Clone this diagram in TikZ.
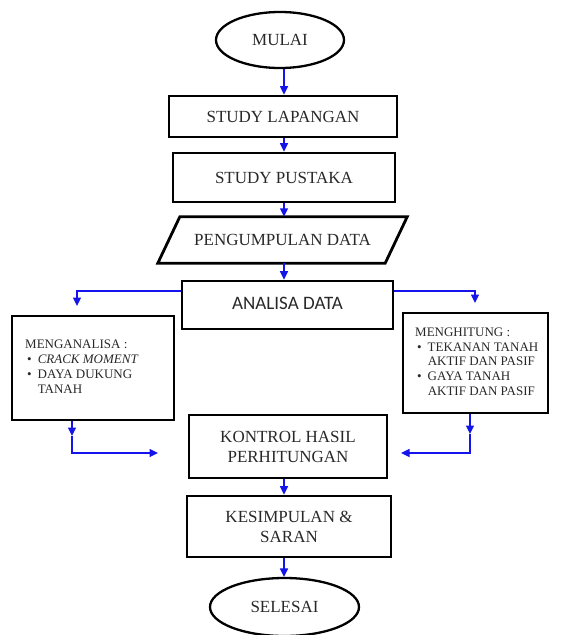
\documentclass[tikz,border=0pt]{standalone}
\usepackage{fontspec}
\setmainfont{Liberation Serif}
\newfontfamily\calfont{Carlito}
\usetikzlibrary{shapes.geometric,arrows.meta}
\definecolor{txt}{RGB}{40,40,40}
\definecolor{arrblue}{RGB}{20,20,235}
\tikzset{
  box/.style={draw=black, line width=2.8pt, rectangle, inner sep=0pt, text=txt,
    font=\fontsize{17}{20}\selectfont, align=center},
  term/.style={draw=black, line width=2.3pt, ellipse, inner sep=0pt, text=txt,
    font=\fontsize{17}{20}\selectfont},
  plain/.style={inner sep=0pt, text=txt, font=\fontsize{17}{20}\selectfont, align=center},
  listtxt/.style={inner sep=0pt, text=txt, anchor=west, align=left,
    font=\fontsize{13}{14.8}\selectfont},
  arr/.style={draw=arrblue, line width=1.4pt, -{Triangle[length=8.5pt,width=8pt]}},
  ln/.style={draw=arrblue, line width=1.4pt}
}
\begin{document}
\begin{tikzpicture}[x=1pt,y=-1pt]
\useasboundingbox (0,0) rectangle (561,635);
\coordinate (col) at (284,0);

\node[term, minimum width=128pt, minimum height=56pt] (mulai) at (280,40) {MULAI};
\node[box, minimum width=228pt, minimum height=41pt] (lap) at (283,116.5) {STUDY LAPANGAN};
\node[box, minimum width=222pt, minimum height=49pt] (pus) at (284,177.5) {STUDY PUSTAKA};
\node[plain, minimum width=227pt, minimum height=46pt] (pd) at (282.5,240) {PENGUMPULAN DATA};
\draw[line width=2.8pt, line join=miter]
  ([xshift=11pt]pd.north west) -- ([xshift=11pt]pd.north east)
  -- ([xshift=-11pt]pd.south east) -- ([xshift=-11pt]pd.south west) -- cycle;
\node[box, minimum width=211pt, minimum height=48pt, font=\calfont\fontsize{19}{22}\selectfont] (ana) at (287.5,305) {\raisebox{4pt}{ANALISA DATA}};

\node[draw=black, line width=2.8pt, minimum width=162pt, minimum height=104pt, inner sep=0pt] (lbox) at (93,368) {};
\node[listtxt] (ltxt) at (25,368) {%
\begin{tabular}{@{}l@{\hspace{6pt}}l@{}}
\multicolumn{2}{@{}l@{}}{MENGANALISA :}\\
\hspace{2pt}\textbullet & \textit{CRACK MOMENT}\\
\hspace{2pt}\textbullet & DAYA DUKUNG\\
 & TANAH
\end{tabular}};

\node[draw=black, line width=2.8pt, minimum width=145pt, minimum height=100pt, inner sep=0pt] (rbox) at (475.5,363) {};
\node[listtxt] (rtxt) at (415,363) {%
\begin{tabular}{@{}l@{\hspace{6pt}}l@{}}
\multicolumn{2}{@{}l@{}}{MENGHITUNG :}\\
\hspace{2pt}\textbullet & TEKANAN TANAH\\
 & AKTIF DAN PASIF\\
\hspace{2pt}\textbullet & GAYA TANAH\\
 & AKTIF DAN PASIF
\end{tabular}};

\node[box, minimum width=198pt, minimum height=63pt] (kon) at (288,446.5) {KONTROL HASIL\\PERHITUNGAN};
\node[box, minimum width=204pt, minimum height=61pt] (kes) at (289,526.5) {KESIMPULAN \&\\SARAN};
\node[term, minimum width=149pt, minimum height=58pt] (sel) at (284.5,607) {SELESAI};

% main column arrows
\draw[arr] (mulai.south -| col) -- (lap.north -| col);
\draw[arr] (lap.south -| col) -- (pus.north -| col);
\draw[arr] (pus.south -| col) -- (pd.north -| col);
\draw[arr] (pd.south -| col) -- (ana.north -| col);
\draw[arr] (kon.south -| col) -- (kes.north -| col);
\draw[arr] (kes.south -| col) -- (sel.north -| col);

% side branches
\coordinate (yl) at (0,291);
\coordinate (lt) at (77,306);
\coordinate (rt) at (475,303);
\draw[arr] (ana.west |- yl) -| (lt);
\draw[arr] (ana.east |- yl) -| (rt);

\coordinate (lb1) at (72,436);
\coordinate (lk) at (158,453);
\draw[arr] (lbox.south -| lb1) -- (lb1);
\draw[arr] (lb1) |- (lk);

\coordinate (rb1) at (470,434);
\coordinate (rk) at (401,453);
\draw[arr] (rbox.south -| rb1) -- (rb1);
\draw[arr] (rb1) |- (rk);
\end{tikzpicture}
\end{document}
